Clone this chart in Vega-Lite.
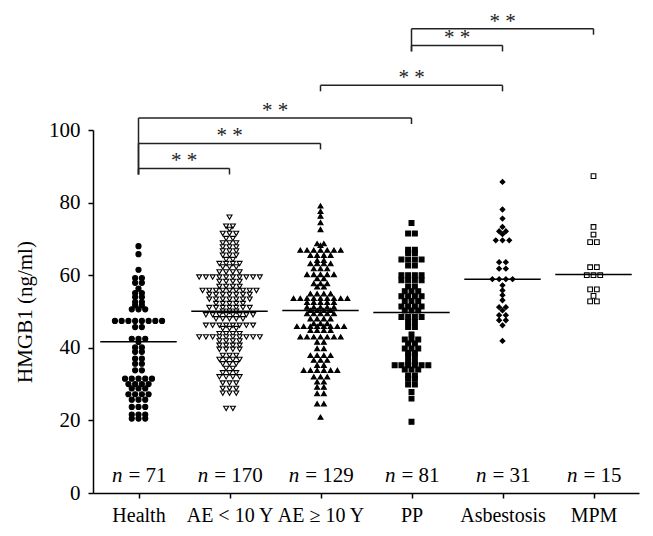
{
"$schema":"https://vega.github.io/schema/vega-lite/v6.json",
"width":546,"height":363,"autosize":"none",
"padding":{"left":93,"top":130,"right":14,"bottom":43},
"background":"white",
"config":{"view":{"stroke":null},"font":"Liberation Serif",
 "axis":{"labelFont":"Liberation Serif","titleFont":"Liberation Serif","labelFontSize":21,"titleFontSize":21,"labelColor":"#000","titleColor":"#000","domainColor":"#000","tickColor":"#000","domainWidth":1.5,"tickWidth":1.5,"tickSize":5,"grid":false,"titleFontWeight":"normal"}},
"datasets":{
"pts":[
{"g":"Health","v":68.0},{"g":"Health","v":65.8},{"g":"Health","v":61.5},{"g":"Health","v":59.2},{"g":"Health","v":59.2},
{"g":"Health","v":57.9},{"g":"Health","v":57.9},{"g":"Health","v":56.3},{"g":"Health","v":55.1},{"g":"Health","v":55.1},
{"g":"Health","v":54.0},{"g":"Health","v":54.0},{"g":"Health","v":52.6},{"g":"Health","v":52.6},{"g":"Health","v":51.7},{"g":"Health","v":51.7},
{"g":"Health","v":50.6},{"g":"Health","v":50.6},{"g":"Health","v":50.6},
{"g":"Health","v":47.4},{"g":"Health","v":47.4},{"g":"Health","v":47.4},{"g":"Health","v":47.4},{"g":"Health","v":47.4},{"g":"Health","v":47.4},{"g":"Health","v":47.4},{"g":"Health","v":47.4},
{"g":"Health","v":45.7},{"g":"Health","v":45.7},{"g":"Health","v":42.5},{"g":"Health","v":42.5},{"g":"Health","v":42.5},
{"g":"Health","v":41.6},{"g":"Health","v":40.1},{"g":"Health","v":40.1},{"g":"Health","v":38.9},{"g":"Health","v":38.9},
{"g":"Health","v":37.0},{"g":"Health","v":37.0},{"g":"Health","v":35.6},{"g":"Health","v":35.6},{"g":"Health","v":33.8},{"g":"Health","v":33.8},
{"g":"Health","v":31.5},{"g":"Health","v":31.5},{"g":"Health","v":31.5},{"g":"Health","v":31.5},{"g":"Health","v":31.5},
{"g":"Health","v":30.0},{"g":"Health","v":30.0},{"g":"Health","v":30.0},{"g":"Health","v":30.0},
{"g":"Health","v":28.8},{"g":"Health","v":28.8},{"g":"Health","v":28.8},
{"g":"Health","v":27.2},{"g":"Health","v":27.2},{"g":"Health","v":27.2},{"g":"Health","v":27.2},
{"g":"Health","v":25.7},{"g":"Health","v":25.7},{"g":"Health","v":25.7},{"g":"Health","v":23.7},{"g":"Health","v":23.7},{"g":"Health","v":23.7},
{"g":"Health","v":21.6},{"g":"Health","v":21.6},{"g":"Health","v":21.6},{"g":"Health","v":20.5},{"g":"Health","v":20.5},{"g":"Health","v":20.5},

{"g":"AE < 10 Y","v":76.0},{"g":"AE < 10 Y","v":73.5},{"g":"AE < 10 Y","v":73.5},{"g":"AE < 10 Y","v":72.6},
{"g":"AE < 10 Y","v":71.5},{"g":"AE < 10 Y","v":71.5},{"g":"AE < 10 Y","v":71.5},{"g":"AE < 10 Y","v":70.1},{"g":"AE < 10 Y","v":70.1},
{"g":"AE < 10 Y","v":68.9},{"g":"AE < 10 Y","v":68.9},{"g":"AE < 10 Y","v":68.9},{"g":"AE < 10 Y","v":67.8},{"g":"AE < 10 Y","v":67.8},{"g":"AE < 10 Y","v":67.8},
{"g":"AE < 10 Y","v":66.7},{"g":"AE < 10 Y","v":66.7},{"g":"AE < 10 Y","v":66.7},{"g":"AE < 10 Y","v":65.5},{"g":"AE < 10 Y","v":65.5},{"g":"AE < 10 Y","v":65.5},
{"g":"AE < 10 Y","v":64.3},{"g":"AE < 10 Y","v":64.3},{"g":"AE < 10 Y","v":63.2},{"g":"AE < 10 Y","v":63.2},{"g":"AE < 10 Y","v":63.2},{"g":"AE < 10 Y","v":63.2},
{"g":"AE < 10 Y","v":62.3},{"g":"AE < 10 Y","v":62.3},{"g":"AE < 10 Y","v":62.3},{"g":"AE < 10 Y","v":60.9},{"g":"AE < 10 Y","v":60.9},{"g":"AE < 10 Y","v":60.9},{"g":"AE < 10 Y","v":60.9},
{"g":"AE < 10 Y","v":59.5},{"g":"AE < 10 Y","v":59.5},{"g":"AE < 10 Y","v":59.5},{"g":"AE < 10 Y","v":59.5},{"g":"AE < 10 Y","v":59.5},{"g":"AE < 10 Y","v":59.5},{"g":"AE < 10 Y","v":59.5},{"g":"AE < 10 Y","v":59.5},{"g":"AE < 10 Y","v":59.5},{"g":"AE < 10 Y","v":59.5},
{"g":"AE < 10 Y","v":58.3},{"g":"AE < 10 Y","v":58.3},{"g":"AE < 10 Y","v":58.3},{"g":"AE < 10 Y","v":58.3},
{"g":"AE < 10 Y","v":56.9},{"g":"AE < 10 Y","v":56.9},{"g":"AE < 10 Y","v":56.9},{"g":"AE < 10 Y","v":56.9},
{"g":"AE < 10 Y","v":55.8},{"g":"AE < 10 Y","v":55.8},{"g":"AE < 10 Y","v":55.8},{"g":"AE < 10 Y","v":55.8},{"g":"AE < 10 Y","v":55.8},{"g":"AE < 10 Y","v":55.8},{"g":"AE < 10 Y","v":55.8},{"g":"AE < 10 Y","v":55.8},{"g":"AE < 10 Y","v":55.8},
{"g":"AE < 10 Y","v":54.7},{"g":"AE < 10 Y","v":54.7},{"g":"AE < 10 Y","v":54.7},{"g":"AE < 10 Y","v":54.7},{"g":"AE < 10 Y","v":54.7},{"g":"AE < 10 Y","v":54.7},{"g":"AE < 10 Y","v":54.7},
{"g":"AE < 10 Y","v":53.4},{"g":"AE < 10 Y","v":53.4},{"g":"AE < 10 Y","v":53.4},{"g":"AE < 10 Y","v":53.4},{"g":"AE < 10 Y","v":53.4},{"g":"AE < 10 Y","v":53.4},{"g":"AE < 10 Y","v":53.4},
{"g":"AE < 10 Y","v":52.2},{"g":"AE < 10 Y","v":52.2},{"g":"AE < 10 Y","v":52.2},{"g":"AE < 10 Y","v":52.2},{"g":"AE < 10 Y","v":52.2},
{"g":"AE < 10 Y","v":51.1},{"g":"AE < 10 Y","v":51.1},{"g":"AE < 10 Y","v":51.1},{"g":"AE < 10 Y","v":51.1},{"g":"AE < 10 Y","v":51.1},{"g":"AE < 10 Y","v":51.1},{"g":"AE < 10 Y","v":51.1},
{"g":"AE < 10 Y","v":50.1},{"g":"AE < 10 Y","v":50.1},{"g":"AE < 10 Y","v":50.1},
{"g":"AE < 10 Y","v":49.1},{"g":"AE < 10 Y","v":49.1},{"g":"AE < 10 Y","v":49.1},{"g":"AE < 10 Y","v":49.1},{"g":"AE < 10 Y","v":49.1},{"g":"AE < 10 Y","v":49.1},{"g":"AE < 10 Y","v":49.1},{"g":"AE < 10 Y","v":49.1},
{"g":"AE < 10 Y","v":48.0},{"g":"AE < 10 Y","v":48.0},{"g":"AE < 10 Y","v":48.0},{"g":"AE < 10 Y","v":48.0},{"g":"AE < 10 Y","v":48.0},
{"g":"AE < 10 Y","v":46.2},{"g":"AE < 10 Y","v":46.2},{"g":"AE < 10 Y","v":46.2},{"g":"AE < 10 Y","v":46.2},{"g":"AE < 10 Y","v":46.2},{"g":"AE < 10 Y","v":46.2},{"g":"AE < 10 Y","v":46.2},{"g":"AE < 10 Y","v":46.2},
{"g":"AE < 10 Y","v":45.3},{"g":"AE < 10 Y","v":45.3},{"g":"AE < 10 Y","v":45.3},
{"g":"AE < 10 Y","v":43.9},{"g":"AE < 10 Y","v":43.9},{"g":"AE < 10 Y","v":43.9},{"g":"AE < 10 Y","v":43.9},
{"g":"AE < 10 Y","v":43.0},{"g":"AE < 10 Y","v":43.0},{"g":"AE < 10 Y","v":43.0},{"g":"AE < 10 Y","v":43.0},{"g":"AE < 10 Y","v":43.0},{"g":"AE < 10 Y","v":43.0},{"g":"AE < 10 Y","v":43.0},{"g":"AE < 10 Y","v":43.0},{"g":"AE < 10 Y","v":43.0},{"g":"AE < 10 Y","v":43.0},
{"g":"AE < 10 Y","v":41.9},{"g":"AE < 10 Y","v":41.9},{"g":"AE < 10 Y","v":41.9},{"g":"AE < 10 Y","v":41.9},
{"g":"AE < 10 Y","v":40.7},{"g":"AE < 10 Y","v":40.7},{"g":"AE < 10 Y","v":40.7},{"g":"AE < 10 Y","v":40.7},
{"g":"AE < 10 Y","v":39.6},{"g":"AE < 10 Y","v":39.6},{"g":"AE < 10 Y","v":39.6},{"g":"AE < 10 Y","v":39.6},
{"g":"AE < 10 Y","v":37.9},{"g":"AE < 10 Y","v":37.9},{"g":"AE < 10 Y","v":37.9},
{"g":"AE < 10 Y","v":36.8},{"g":"AE < 10 Y","v":36.8},{"g":"AE < 10 Y","v":36.8},{"g":"AE < 10 Y","v":36.8},
{"g":"AE < 10 Y","v":35.6},{"g":"AE < 10 Y","v":35.6},{"g":"AE < 10 Y","v":35.6},{"g":"AE < 10 Y","v":34.3},{"g":"AE < 10 Y","v":34.3},
{"g":"AE < 10 Y","v":33.1},{"g":"AE < 10 Y","v":33.1},{"g":"AE < 10 Y","v":33.1},
{"g":"AE < 10 Y","v":32.0},{"g":"AE < 10 Y","v":32.0},{"g":"AE < 10 Y","v":32.0},{"g":"AE < 10 Y","v":32.0},
{"g":"AE < 10 Y","v":30.3},{"g":"AE < 10 Y","v":30.3},{"g":"AE < 10 Y","v":30.3},{"g":"AE < 10 Y","v":28.8},{"g":"AE < 10 Y","v":28.8},{"g":"AE < 10 Y","v":28.8},
{"g":"AE < 10 Y","v":27.5},{"g":"AE < 10 Y","v":27.5},{"g":"AE < 10 Y","v":27.5},{"g":"AE < 10 Y","v":23.3},{"g":"AE < 10 Y","v":23.3},

{"g":"AE ≥ 10 Y","v":79.1},{"g":"AE ≥ 10 Y","v":77.6},{"g":"AE ≥ 10 Y","v":76.3},{"g":"AE ≥ 10 Y","v":74.5},{"g":"AE ≥ 10 Y","v":72.6},
{"g":"AE ≥ 10 Y","v":68.7},{"g":"AE ≥ 10 Y","v":68.7},{"g":"AE ≥ 10 Y","v":68.2},
{"g":"AE ≥ 10 Y","v":66.9},{"g":"AE ≥ 10 Y","v":66.9},{"g":"AE ≥ 10 Y","v":66.9},{"g":"AE ≥ 10 Y","v":66.9},{"g":"AE ≥ 10 Y","v":66.9},{"g":"AE ≥ 10 Y","v":66.9},{"g":"AE ≥ 10 Y","v":66.9},
{"g":"AE ≥ 10 Y","v":65.5},{"g":"AE ≥ 10 Y","v":65.5},{"g":"AE ≥ 10 Y","v":65.5},{"g":"AE ≥ 10 Y","v":65.5},
{"g":"AE ≥ 10 Y","v":64.1},{"g":"AE ≥ 10 Y","v":64.1},
{"g":"AE ≥ 10 Y","v":63.2},{"g":"AE ≥ 10 Y","v":63.2},{"g":"AE ≥ 10 Y","v":63.2},{"g":"AE ≥ 10 Y","v":63.2},
{"g":"AE ≥ 10 Y","v":61.8},{"g":"AE ≥ 10 Y","v":61.8},{"g":"AE ≥ 10 Y","v":61.8},
{"g":"AE ≥ 10 Y","v":60.2},{"g":"AE ≥ 10 Y","v":60.2},{"g":"AE ≥ 10 Y","v":60.2},{"g":"AE ≥ 10 Y","v":60.2},{"g":"AE ≥ 10 Y","v":60.2},
{"g":"AE ≥ 10 Y","v":59.1},{"g":"AE ≥ 10 Y","v":59.1},{"g":"AE ≥ 10 Y","v":57.7},{"g":"AE ≥ 10 Y","v":57.7},{"g":"AE ≥ 10 Y","v":57.7},
{"g":"AE ≥ 10 Y","v":56.8},{"g":"AE ≥ 10 Y","v":56.8},
{"g":"AE ≥ 10 Y","v":54.9},{"g":"AE ≥ 10 Y","v":54.9},{"g":"AE ≥ 10 Y","v":54.9},{"g":"AE ≥ 10 Y","v":54.9},
{"g":"AE ≥ 10 Y","v":53.6},{"g":"AE ≥ 10 Y","v":53.6},{"g":"AE ≥ 10 Y","v":53.6},{"g":"AE ≥ 10 Y","v":53.6},{"g":"AE ≥ 10 Y","v":53.6},{"g":"AE ≥ 10 Y","v":53.6},{"g":"AE ≥ 10 Y","v":53.6},{"g":"AE ≥ 10 Y","v":53.6},{"g":"AE ≥ 10 Y","v":53.6},
{"g":"AE ≥ 10 Y","v":52.5},{"g":"AE ≥ 10 Y","v":52.5},{"g":"AE ≥ 10 Y","v":52.5},{"g":"AE ≥ 10 Y","v":52.5},{"g":"AE ≥ 10 Y","v":52.5},
{"g":"AE ≥ 10 Y","v":51.2},{"g":"AE ≥ 10 Y","v":51.2},{"g":"AE ≥ 10 Y","v":51.2},{"g":"AE ≥ 10 Y","v":51.2},{"g":"AE ≥ 10 Y","v":51.2},
{"g":"AE ≥ 10 Y","v":50.3},{"g":"AE ≥ 10 Y","v":50.3},{"g":"AE ≥ 10 Y","v":50.3},{"g":"AE ≥ 10 Y","v":50.3},
{"g":"AE ≥ 10 Y","v":49.4},{"g":"AE ≥ 10 Y","v":49.4},{"g":"AE ≥ 10 Y","v":49.4},{"g":"AE ≥ 10 Y","v":49.4},{"g":"AE ≥ 10 Y","v":49.4},
{"g":"AE ≥ 10 Y","v":48.0},{"g":"AE ≥ 10 Y","v":48.0},{"g":"AE ≥ 10 Y","v":48.0},{"g":"AE ≥ 10 Y","v":48.0},
{"g":"AE ≥ 10 Y","v":46.7},{"g":"AE ≥ 10 Y","v":46.7},{"g":"AE ≥ 10 Y","v":46.7},
{"g":"AE ≥ 10 Y","v":45.9},{"g":"AE ≥ 10 Y","v":45.9},{"g":"AE ≥ 10 Y","v":45.9},{"g":"AE ≥ 10 Y","v":45.9},{"g":"AE ≥ 10 Y","v":45.9},{"g":"AE ≥ 10 Y","v":45.9},{"g":"AE ≥ 10 Y","v":45.9},{"g":"AE ≥ 10 Y","v":45.9},
{"g":"AE ≥ 10 Y","v":44.8},{"g":"AE ≥ 10 Y","v":44.8},{"g":"AE ≥ 10 Y","v":44.8},{"g":"AE ≥ 10 Y","v":44.8},
{"g":"AE ≥ 10 Y","v":43.0},{"g":"AE ≥ 10 Y","v":43.0},{"g":"AE ≥ 10 Y","v":43.0},{"g":"AE ≥ 10 Y","v":43.0},{"g":"AE ≥ 10 Y","v":43.0},{"g":"AE ≥ 10 Y","v":43.0},{"g":"AE ≥ 10 Y","v":43.0},
{"g":"AE ≥ 10 Y","v":41.6},{"g":"AE ≥ 10 Y","v":41.6},{"g":"AE ≥ 10 Y","v":39.8},{"g":"AE ≥ 10 Y","v":39.8},
{"g":"AE ≥ 10 Y","v":37.9},{"g":"AE ≥ 10 Y","v":37.9},{"g":"AE ≥ 10 Y","v":37.9},{"g":"AE ≥ 10 Y","v":37.9},
{"g":"AE ≥ 10 Y","v":36.6},{"g":"AE ≥ 10 Y","v":36.6},{"g":"AE ≥ 10 Y","v":36.6},{"g":"AE ≥ 10 Y","v":35.2},{"g":"AE ≥ 10 Y","v":35.2},
{"g":"AE ≥ 10 Y","v":33.8},{"g":"AE ≥ 10 Y","v":33.8},{"g":"AE ≥ 10 Y","v":33.8},{"g":"AE ≥ 10 Y","v":33.8},{"g":"AE ≥ 10 Y","v":33.8},{"g":"AE ≥ 10 Y","v":33.8},
{"g":"AE ≥ 10 Y","v":32.0},{"g":"AE ≥ 10 Y","v":32.0},{"g":"AE ≥ 10 Y","v":32.0},{"g":"AE ≥ 10 Y","v":30.6},{"g":"AE ≥ 10 Y","v":30.6},
{"g":"AE ≥ 10 Y","v":29.2},{"g":"AE ≥ 10 Y","v":29.2},{"g":"AE ≥ 10 Y","v":27.4},{"g":"AE ≥ 10 Y","v":27.4},
{"g":"AE ≥ 10 Y","v":24.6},{"g":"AE ≥ 10 Y","v":24.6},{"g":"AE ≥ 10 Y","v":20.9},

{"g":"PP","v":74.4},{"g":"PP","v":71.5},{"g":"PP","v":71.5},{"g":"PP","v":67.0},{"g":"PP","v":67.0},{"g":"PP","v":66.1},{"g":"PP","v":66.1},
{"g":"PP","v":64.3},{"g":"PP","v":64.3},{"g":"PP","v":64.3},{"g":"PP","v":64.3},{"g":"PP","v":62.7},{"g":"PP","v":62.7},
{"g":"PP","v":60.0},{"g":"PP","v":60.0},{"g":"PP","v":60.0},{"g":"PP","v":60.0},{"g":"PP","v":58.6},{"g":"PP","v":58.6},{"g":"PP","v":58.6},{"g":"PP","v":58.6},
{"g":"PP","v":56.9},{"g":"PP","v":56.9},{"g":"PP","v":55.6},{"g":"PP","v":55.6},{"g":"PP","v":55.6},
{"g":"PP","v":54.2},{"g":"PP","v":54.2},{"g":"PP","v":54.2},{"g":"PP","v":54.2},{"g":"PP","v":52.9},{"g":"PP","v":52.9},{"g":"PP","v":52.9},
{"g":"PP","v":51.4},{"g":"PP","v":51.4},{"g":"PP","v":51.4},{"g":"PP","v":51.4},{"g":"PP","v":50.3},{"g":"PP","v":50.3},{"g":"PP","v":50.3},
{"g":"PP","v":48.5},{"g":"PP","v":48.5},{"g":"PP","v":48.5},{"g":"PP","v":48.5},{"g":"PP","v":47.1},{"g":"PP","v":47.1},
{"g":"PP","v":45.7},{"g":"PP","v":45.7},{"g":"PP","v":43.7},{"g":"PP","v":42.3},{"g":"PP","v":42.3},{"g":"PP","v":42.3},
{"g":"PP","v":41.2},{"g":"PP","v":41.2},{"g":"PP","v":39.8},{"g":"PP","v":39.8},{"g":"PP","v":39.8},
{"g":"PP","v":38.6},{"g":"PP","v":38.6},{"g":"PP","v":37.7},{"g":"PP","v":37.7},{"g":"PP","v":36.1},{"g":"PP","v":36.1},
{"g":"PP","v":35.2},{"g":"PP","v":35.2},{"g":"PP","v":35.2},{"g":"PP","v":35.2},{"g":"PP","v":35.2},{"g":"PP","v":35.2},
{"g":"PP","v":34.0},{"g":"PP","v":34.0},{"g":"PP","v":34.0},{"g":"PP","v":32.4},{"g":"PP","v":32.4},{"g":"PP","v":31.5},{"g":"PP","v":31.5},
{"g":"PP","v":29.9},{"g":"PP","v":29.9},{"g":"PP","v":27.8},{"g":"PP","v":26.0},{"g":"PP","v":19.6},

{"g":"Asbestosis","v":85.7},{"g":"Asbestosis","v":78.1},{"g":"Asbestosis","v":75.6},{"g":"Asbestosis","v":73.3},
{"g":"Asbestosis","v":72.1},{"g":"Asbestosis","v":72.1},{"g":"Asbestosis","v":71.3},
{"g":"Asbestosis","v":69.6},{"g":"Asbestosis","v":69.6},{"g":"Asbestosis","v":69.6},
{"g":"Asbestosis","v":63.6},{"g":"Asbestosis","v":63.6},{"g":"Asbestosis","v":61.8},{"g":"Asbestosis","v":61.8},
{"g":"Asbestosis","v":58.9},{"g":"Asbestosis","v":58.9},{"g":"Asbestosis","v":58.9},{"g":"Asbestosis","v":58.9},
{"g":"Asbestosis","v":57.2},{"g":"Asbestosis","v":55.8},{"g":"Asbestosis","v":54.5},{"g":"Asbestosis","v":53.1},
{"g":"Asbestosis","v":51.2},{"g":"Asbestosis","v":51.2},{"g":"Asbestosis","v":50.3},
{"g":"Asbestosis","v":49.0},{"g":"Asbestosis","v":49.0},{"g":"Asbestosis","v":47.6},{"g":"Asbestosis","v":47.6},
{"g":"Asbestosis","v":46.2},{"g":"Asbestosis","v":41.9},

{"g":"MPM","v":87.3},{"g":"MPM","v":73.3},{"g":"MPM","v":71.2},{"g":"MPM","v":69.1},{"g":"MPM","v":69.1},
{"g":"MPM","v":62.2},{"g":"MPM","v":62.2},{"g":"MPM","v":60.0},{"g":"MPM","v":60.0},{"g":"MPM","v":60.0},
{"g":"MPM","v":56.1},{"g":"MPM","v":56.1},{"g":"MPM","v":54.3},{"g":"MPM","v":52.8},{"g":"MPM","v":52.8}
],
"med":[{"g":"Health","m":41.7},{"g":"AE < 10 Y","m":50.1},{"g":"AE ≥ 10 Y","m":50.3},{"g":"PP","m":49.7},{"g":"Asbestosis","m":58.9},{"g":"MPM","m":60.2}],
"brk":[
{"a":"Health","b":"AE < 10 Y","h":89.4,"sig":"* *"},
{"a":"Health","b":"AE ≥ 10 Y","h":96.3,"sig":"* *"},
{"a":"Health","b":"PP","h":103.3,"sig":"* *"},
{"a":"AE ≥ 10 Y","b":"Asbestosis","h":112.3,"sig":"* *"},
{"a":"PP","b":"Asbestosis","h":123.3,"sig":"* *"},
{"a":"PP","b":"MPM","h":127.9,"sig":"* *"}
],
"ns":[{"g":"Health","n":71},{"g":"AE < 10 Y","n":170},{"g":"AE ≥ 10 Y","n":129},{"g":"PP","n":81},{"g":"Asbestosis","n":31},{"g":"MPM","n":15}]
},
"layer":[
{"data":{"name":"pts"},
 "transform":[
  {"window":[{"op":"row_number","as":"r"},{"op":"count","as":"c"}],"groupby":["g","v"],"frame":[null,null]},
  {"calculate":"indexof(['Health','AE < 10 Y','AE ≥ 10 Y','PP','Asbestosis','MPM'], datum.g)","as":"gi"},
  {"calculate":"datum.gi + (datum.r - 1 - (datum.c - 1)/2) * 0.074","as":"xp"}
 ],
 "mark":{"type":"point","filled":true,"opacity":1,"stroke":"#000","strokeWidth":1.1},
 "encoding":{
  "x":{"field":"xp","type":"quantitative","title":null,"scale":{"domain":[-0.5,5.5],"nice":false,"zero":false},
       "axis":{"values":[0,1,2,3,4,5],"labelExpr":"['Health','AE < 10 Y','AE ≥ 10 Y','PP','Asbestosis','MPM'][datum.value]","labelFontSize":20,"labelPadding":7,"labelFlush":false,"labelOverlap":false,"labelBound":false}},
  "y":{"field":"v","type":"quantitative","title":"HMGB1 (ng/ml)","scale":{"domain":[0,100],"nice":false,"zero":true},
       "axis":{"values":[0,20,40,60,80,100],"labelPadding":8,"titlePadding":13}},
  "shape":{"field":"g","type":"nominal","scale":{"domain":["Health","AE < 10 Y","AE ≥ 10 Y","PP","Asbestosis","MPM"],"range":["circle","triangle-down","triangle-up","square","diamond","square"]},"legend":null},
  "fill":{"field":"g","type":"nominal","scale":{"domain":["Health","AE < 10 Y","AE ≥ 10 Y","PP","Asbestosis","MPM"],"range":["#000","#fff","#000","#000","#000","#fff"]},"legend":null},
  "size":{"field":"g","type":"nominal","scale":{"domain":["Health","AE < 10 Y","AE ≥ 10 Y","PP","Asbestosis","MPM"],"range":[26,22,28,26,36,20]},"legend":null}
 }},
{"data":{"name":"med"},
 "transform":[
  {"calculate":"indexof(['Health','AE < 10 Y','AE ≥ 10 Y','PP','Asbestosis','MPM'], datum.g)","as":"gi"},
  {"calculate":"datum.gi - 0.42","as":"x1"},{"calculate":"datum.gi + 0.42","as":"x2"}
 ],
 "mark":{"type":"rule","color":"#000","strokeWidth":1.5},
 "encoding":{
  "x":{"field":"x1","type":"quantitative","title":null},
  "x2":{"field":"x2"},
  "y":{"field":"m","type":"quantitative","title":"HMGB1 (ng/ml)"}
 }},
{"data":{"name":"brk"},
 "transform":[
  {"calculate":"indexof(['Health','AE < 10 Y','AE ≥ 10 Y','PP','Asbestosis','MPM'], datum.a)","as":"ai"},
  {"calculate":"indexof(['Health','AE < 10 Y','AE ≥ 10 Y','PP','Asbestosis','MPM'], datum.b)","as":"bi"},
  {"joinaggregate":[{"op":"min","field":"h","as":"mh"}],"groupby":["a"]},
  {"calculate":"datum.mh - 1.65","as":"lb"},
  {"calculate":"datum.h - 1.65","as":"rb"},
  {"calculate":"(datum.ai + datum.bi)/2","as":"mid"}
 ],
 "layer":[
  {"mark":{"type":"rule","color":"#222","strokeWidth":1.5},
   "encoding":{"x":{"field":"ai","type":"quantitative","title":null},"x2":{"field":"bi"},"y":{"field":"h","type":"quantitative","title":"HMGB1 (ng/ml)"}}},
  {"mark":{"type":"rule","color":"#222","strokeWidth":1.5},
   "encoding":{"x":{"field":"ai","type":"quantitative","title":null},"y":{"field":"h","type":"quantitative","title":"HMGB1 (ng/ml)"},"y2":{"field":"lb"}}},
  {"mark":{"type":"rule","color":"#222","strokeWidth":1.5},
   "encoding":{"x":{"field":"bi","type":"quantitative","title":null},"y":{"field":"h","type":"quantitative","title":"HMGB1 (ng/ml)"},"y2":{"field":"rb"}}},
  {"mark":{"type":"text","fontSize":21,"font":"Liberation Serif","baseline":"alphabetic","align":"center","dy":-1,"color":"#222"},
   "encoding":{"x":{"field":"mid","type":"quantitative","title":null},"y":{"field":"h","type":"quantitative","title":"HMGB1 (ng/ml)"},"text":{"field":"sig"}}}
 ]},
{"data":{"name":"ns"},
 "transform":[
  {"calculate":"indexof(['Health','AE < 10 Y','AE ≥ 10 Y','PP','Asbestosis','MPM'], datum.g)","as":"gi"},
  {"calculate":"datum.gi - 0.058 * (length('' + datum.n) - 2)","as":"nx"},
  {"calculate":"'= ' + datum.n","as":"lab"}
 ],
 "layer":[
  {"mark":{"type":"text","text":"n","fontStyle":"italic","fontSize":21,"font":"Liberation Serif","align":"right","baseline":"alphabetic","dx":-16,"color":"#000"},
   "encoding":{"x":{"field":"nx","type":"quantitative","title":null},"y":{"datum":3,"type":"quantitative","title":"HMGB1 (ng/ml)"}}},
  {"mark":{"type":"text","fontSize":21,"font":"Liberation Serif","align":"left","baseline":"alphabetic","dx":-10,"color":"#000"},
   "encoding":{"x":{"field":"nx","type":"quantitative","title":null},"y":{"datum":3,"type":"quantitative","title":"HMGB1 (ng/ml)"},"text":{"field":"lab"}}}
 ]}
]
}
